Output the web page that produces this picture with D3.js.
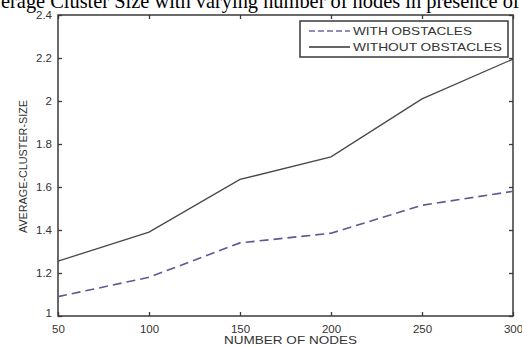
<!DOCTYPE html>
<html>
<head>
<meta charset="utf-8">
<script src="https://cdn.jsdelivr.net/npm/d3@7"></script>
<style>
body { margin: 0; background: #fff; }
svg { display: block; }
</style>
</head>
<body>
<div id="chart"></div>
<script>
// chart data
var nodes = [50, 100, 150, 200, 250, 300];
var withObstacles = [1.09, 1.18, 1.34, 1.385, 1.515, 1.58];
var withoutObstacles = [1.255, 1.39, 1.635, 1.74, 2.01, 2.195];
var xTicks = [50, 100, 150, 200, 250, 300];
var yTicks = [1, 1.2, 1.4, 1.6, 1.8, 2, 2.2, 2.4];
var seriesNames = ["WITH OBSTACLES", "WITHOUT OBSTACLES"];

var svgWidth = 522;
var svgHeight = 347;
var margin = { top: 15, right: 9, bottom: 31, left: 58 };
var chartWidth = svgWidth - margin.left - margin.right;
var chartHeight = svgHeight - margin.top - margin.bottom;

var svg = d3.select("#chart")
  .append("svg")
  .attr("width", svgWidth)
  .attr("height", svgHeight);

var chartGroup = svg.append("g")
  .attr("transform", `translate(${margin.left}, ${margin.top})`);

var x = d3.scaleLinear().domain([50, 300]).range([0, chartWidth]);
var y = d3.scaleLinear().domain([1, 2.4]).range([chartHeight, 0]);

var axisColor = "#3a3a3a";
var sans = "'Liberation Sans', Arial, sans-serif";

// title, cut off on both sides like the original
var titleText = "Average Cluster Size with varying number of nodes in presence of obstacles";
var title = svg.append("text")
  .attr("y", 8)
  .attr("font-family", "'Liberation Serif', 'Times New Roman', serif")
  .attr("font-size", 17)
  .attr("fill", "#000")
  .text(titleText);
// size it so "erage ... presence" runs across the figure
var span = title.node().getSubStringLength(2, titleText.indexOf(" of obstacles") - 2);
var fs = 17 * 497 / span;
title.attr("font-size", fs);
var skip = title.node().getSubStringLength(0, 2);
title.attr("x", 1 - skip);

// box
chartGroup.append("rect")
  .attr("width", chartWidth)
  .attr("height", chartHeight)
  .attr("fill", "none")
  .attr("stroke", axisColor)
  .attr("stroke-width", 1.5);

// axes (ticks pointing inwards, mirrored on top/right)
var bottomAxis = d3.axisBottom(x).tickValues(xTicks).tickSize(-4).tickPadding(9).tickFormat(d3.format("d"));
var topAxis = d3.axisTop(x).tickValues(xTicks).tickSize(-4).tickFormat("");
var leftAxis = d3.axisLeft(y).tickValues(yTicks).tickSize(-4).tickPadding(9).tickFormat(d => d3.format("")(d));
var rightAxis = d3.axisRight(y).tickValues(yTicks).tickSize(-4).tickFormat("");

function styleAxis(g) {
  g.select(".domain").remove();
  g.selectAll(".tick line").attr("stroke", axisColor).attr("stroke-width", 1.3);
  g.selectAll(".tick text")
    .attr("fill", "#333")
    .attr("font-family", sans)
    .attr("font-size", 11.5);
}

chartGroup.append("g")
  .attr("transform", `translate(0, ${chartHeight})`)
  .call(bottomAxis)
  .call(styleAxis);
chartGroup.append("g").call(topAxis).call(styleAxis);
chartGroup.append("g").call(leftAxis).call(styleAxis)
  .selectAll(".tick text").attr("x", -6).attr("dy", d => d === 1 ? "0.05em" : "0.32em");
chartGroup.append("g")
  .attr("transform", `translate(${chartWidth}, 0)`)
  .call(rightAxis).call(styleAxis);

// axis labels
svg.append("text")
  .attr("x", margin.left + chartWidth / 2 + 5)
  .attr("y", 344)
  .attr("text-anchor", "middle")
  .attr("font-family", sans)
  .attr("font-size", 11.5)
  .attr("fill", "#333")
  .attr("textLength", 133)
  .attr("lengthAdjust", "spacingAndGlyphs")
  .text("NUMBER OF NODES");

svg.append("text")
  .attr("transform", `translate(27, ${margin.top + chartHeight / 2 + 1}) rotate(-90)`)
  .attr("text-anchor", "middle")
  .attr("font-family", sans)
  .attr("font-size", 11)
  .attr("fill", "#333")
  .attr("textLength", 133)
  .attr("lengthAdjust", "spacingAndGlyphs")
  .text("AVERAGE-CLUSTER-SIZE");

// lines
var line = d3.line()
  .x((d, i) => x(nodes[i]))
  .y(d => y(d));

chartGroup.append("path")
  .datum(withoutObstacles)
  .attr("d", line)
  .attr("fill", "none")
  .attr("stroke", "#484848")
  .attr("stroke-width", 1.3);

chartGroup.append("path")
  .datum(withObstacles)
  .attr("d", line)
  .attr("fill", "none")
  .attr("stroke", "#5a5a95")
  .attr("stroke-width", 1.6)
  .attr("stroke-dasharray", "9,5");

// legend
var legend = svg.append("g").attr("transform", "translate(300, 21)");
legend.append("rect")
  .attr("width", 208)
  .attr("height", 36)
  .attr("fill", "#fff")
  .attr("stroke", axisColor)
  .attr("stroke-width", 1.5);

var legendStyles = [
  { stroke: "#6a6aa8", dash: "6,3", width: 1.4, len: 119 },
  { stroke: "#333", dash: null, width: 1.3, len: 149 }
];
seriesNames.forEach(function(name, i) {
  var row = legend.append("g").attr("transform", `translate(0, ${10 + i * 16})`);
  row.append("line")
    .attr("x1", 9).attr("x2", 50)
    .attr("stroke", legendStyles[i].stroke)
    .attr("stroke-width", legendStyles[i].width)
    .attr("stroke-dasharray", legendStyles[i].dash);
  row.append("text")
    .attr("x", 53)
    .attr("dy", "0.36em")
    .attr("font-family", sans)
    .attr("font-size", 11.5)
    .attr("fill", "#333")
    .attr("textLength", legendStyles[i].len)
    .attr("lengthAdjust", "spacingAndGlyphs")
    .text(name);
});
</script>
</body>
</html>
